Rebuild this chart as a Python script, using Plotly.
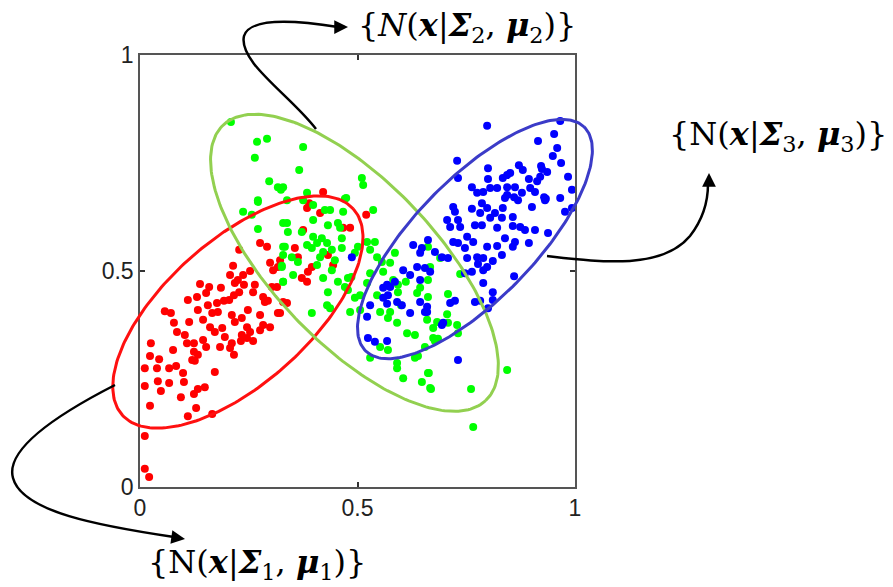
import numpy as np
import plotly.graph_objects as go

# ---------------- data ----------------
red_x = [0.025,0.023,0.044,0.076,0.011,0.039,0.067,0.083,0.099,0.011,0.041,0.048,0.067,0.101,0.023,0.094,0.124,0.133,0.149,0.129,
         0.110,0.166,0.172,0.011,0.011,0.021,0.108,0.124,0.145,0.124,0.120,0.126,0.133,0.152,0.184,0.207,0.216,0.211,0.232,0.260,
         0.057,0.071,0.078,0.085,0.110,0.113,0.103,0.131,0.138,0.152,0.159,0.133,0.145,0.156,0.166,0.177,0.186,0.193,0.205,0.179,
         0.189,0.161,0.172,0.195,0.211,0.218,0.216,0.228,0.207,0.218,0.214,0.225,0.237,0.239,0.253,0.264,0.260,0.248,0.234,0.246,
         0.253,0.234,0.276,0.283,0.299,0.276,0.287,0.294,0.283,0.228,0.276,0.292,0.299,0.317,0.306,0.317,0.315,0.303,0.246,
         0.384,0.389,0.414,0.520,0.375,0.467,0.483,0.356,0.363,0.322,0.432,0.444,0.395,0.386,0.372,0.384,0.329,0.338,0.322,0.421]
red_y = [0.333,0.303,0.296,0.317,0.275,0.275,0.275,0.280,0.264,0.234,0.245,0.222,0.241,0.243,0.188,0.208,0.215,0.227,0.231,0.183,
         0.164,0.169,0.266,0.118,0.042,0.023,0.333,0.333,0.340,0.313,0.294,0.292,0.306,0.324,0.324,0.322,0.306,0.333,0.338,0.338,
         0.407,0.403,0.380,0.359,0.433,0.382,0.352,0.440,0.470,0.449,0.463,0.410,0.387,0.421,0.403,0.426,0.461,0.431,0.433,0.405,
         0.368,0.370,0.359,0.347,0.398,0.382,0.444,0.451,0.491,0.472,0.512,0.479,0.491,0.468,0.500,0.468,0.451,0.410,0.391,0.370,
         0.359,0.352,0.398,0.375,0.370,0.363,0.428,0.431,0.440,0.549,0.565,0.556,0.519,0.509,0.502,0.403,0.463,0.463,0.345,
         0.646,0.657,0.634,0.630,0.595,0.600,0.600,0.553,0.532,0.525,0.537,0.514,0.509,0.498,0.484,0.475,0.428,0.426,0.403,0.683]

green_x = [0.209,0.269,0.292,0.264,0.297,0.317,0.324,0.271,0.375,0.366,0.510,0.513,0.329,0.384,0.474,
           0.237,0.257,0.271,0.271,0.329,0.326,0.329,0.329,
           0.338,0.375,0.398,0.425,0.437,0.471,0.467,0.536,0.398,0.432,0.455,0.460,0.338,0.340,0.372,0.398,0.418,0.407,0.430,0.464,
           0.384,0.333,0.329,0.349,0.363,0.395,0.414,0.421,0.441,0.464,0.448,0.441,0.407,0.326,0.352,0.329,0.421,0.455,0.478,0.486,
           0.494,0.501,0.522,0.540,0.529,0.545,0.556,0.575,0.586,0.559,0.582,0.529,0.522,0.506,0.494,0.478,0.471,0.432,0.430,0.437,
           0.395,0.483,0.506,0.545,0.552,0.593,0.593,0.611,0.600,0.575,0.570,0.591,0.614,0.632,0.637,0.644,0.662,0.660,
           0.662,0.667,0.662,0.690,0.736,0.708,0.706,0.683,0.708,0.729,0.674,0.731,0.674,0.685,
           0.529,0.552,0.570,0.591,0.591,0.605,0.632,0.639,0.655,0.648,0.662,0.667,0.678,0.664,0.669,0.761,0.844,0.766]
green_y = [0.845,0.799,0.806,0.762,0.708,0.694,0.688,0.664,0.787,0.734,0.715,0.699,0.694,0.681,0.669,
           0.637,0.630,0.660,0.597,0.556,0.512,0.475,0.611,
           0.664,0.664,0.653,0.641,0.641,0.667,0.637,0.641,0.618,0.606,0.611,0.600,0.611,0.590,0.590,0.579,0.576,0.565,0.565,0.576,
           0.560,0.556,0.537,0.532,0.521,0.553,0.532,0.544,0.549,0.553,0.525,0.502,0.514,0.509,0.491,0.475,0.484,0.475,0.484,0.486,
           0.542,0.556,0.567,0.567,0.549,0.532,0.521,0.519,0.542,0.498,0.479,0.495,0.472,0.444,0.438,0.456,0.463,0.451,0.421,0.414,
           0.403,0.405,0.410,0.444,0.405,0.468,0.451,0.475,0.421,0.405,0.391,0.380,0.356,0.352,0.449,0.461,0.440,0.387,
           0.556,0.509,0.479,0.530,0.493,0.447,0.400,0.382,0.380,0.375,0.368,0.356,0.345,0.343,
           0.299,0.324,0.317,0.287,0.275,0.252,0.299,0.303,0.324,0.243,0.264,0.229,0.338,0.264,0.227,0.227,0.271,0.139]

blue_x = [0.966,0.798,0.952,0.915,0.959,0.949,0.729,0.968,0.871,0.922,0.800,0.880,0.936,0.731,0.800,0.844,0.851,0.834,0.920,
          0.894,0.913,0.984,0.763,0.775,0.789,0.805,0.821,0.844,0.862,0.897,0.908,0.844,0.878,0.860,0.929,0.966,0.993,
          0.924,0.933,0.977,0.993,0.938,
          0.839,0.869,0.931,0.901,0.720,0.724,0.763,0.786,0.798,0.782,0.816,0.834,0.805,0.857,0.832,0.706,0.731,0.713,0.736,
          0.770,0.786,0.821,0.857,0.874,0.885,0.908,0.752,0.839,0.862,0.662,0.720,0.731,0.766,0.747,0.798,0.821,0.857,0.894,
          0.832,0.678,0.694,0.708,0.752,0.775,0.789,0.811,0.777,0.798,0.789,0.763,0.747,0.655,0.667,0.860,0.789,0.811,0.811,
          0.782,0.770,0.724,0.713,0.800,0.660,0.660,0.694,0.697,
          0.628,0.648,0.644,0.487,0.637,0.605,0.621,0.644,0.586,0.568,0.559,0.575,0.570,0.559,0.568,0.591,0.602,0.644,0.529,
          0.655,0.621,0.522,0.524,0.540,0.568,0.731]
blue_y = [0.847,0.836,0.817,0.801,0.785,0.766,0.755,0.750,0.745,0.743,0.738,0.734,0.729,0.715,0.713,0.722,0.727,0.715,0.718,
          0.713,0.708,0.718,0.694,0.681,0.683,0.692,0.692,0.694,0.694,0.692,0.683,0.676,0.681,0.671,0.671,0.669,0.688,
          0.736,0.667,0.637,0.646,0.588,
          0.669,0.664,0.664,0.648,0.648,0.637,0.644,0.657,0.646,0.634,0.634,0.646,0.623,0.625,0.623,0.618,0.618,0.602,0.602,
          0.606,0.606,0.600,0.604,0.602,0.595,0.595,0.579,0.576,0.567,0.572,0.567,0.565,0.567,0.553,0.556,0.558,0.556,0.565,
          0.537,0.544,0.532,0.530,0.530,0.532,0.530,0.523,0.516,0.509,0.502,0.498,0.495,0.507,0.498,0.488,0.472,0.451,0.433,
          0.431,0.428,0.431,0.426,0.414,0.417,0.405,0.375,0.380,
          0.560,0.553,0.542,0.532,0.509,0.502,0.491,0.479,0.475,0.468,0.461,0.463,0.444,0.438,0.424,0.428,0.421,0.428,0.421,
          0.405,0.403,0.394,0.345,0.336,0.338,0.294]

# Gaussian contour ellipses: centre, semi-axes, rotation (degrees)
ellipses = [
    dict(name="red",   cx=0.225, cy=0.405, a=0.357, b=0.166, ang=42.0,  color="#FF1010"),
    dict(name="green", cx=0.493, cy=0.519, a=0.439, b=0.187, ang=-46.6, color="#92D050"),
    dict(name="blue",  cx=0.770, cy=0.574, a=0.361, b=0.139, ang=46.0,  color="#3B3BC8"),
]

tick_vals = [0, 0.5, 1]
tick_text = ["0", "0.5", "1"]

# ---------------- layout geometry ----------------
W, H = 893, 587
PL, PR, PT, PB = 140, 575, 55, 487   # plot box in pixels
sx = (PR - PL)
sy = (PB - PT)

def px2d(px, py):
    return (px - PL) / sx, (PB - py) / sy

fig = go.Figure()

fig.add_trace(go.Scatter(x=red_x, y=red_y, mode="markers", cliponaxis=False,
                         marker=dict(color="#FF0000", size=8, line=dict(width=0)), showlegend=False))
fig.add_trace(go.Scatter(x=green_x, y=green_y, mode="markers", cliponaxis=False,
                         marker=dict(color="#00FF00", size=8, line=dict(width=0)), showlegend=False))
fig.add_trace(go.Scatter(x=blue_x, y=blue_y, mode="markers", cliponaxis=False,
                         marker=dict(color="#0000FF", size=8, line=dict(width=0)), showlegend=False))

t = np.linspace(0, 2 * np.pi, 241)
for e in ellipses:
    th = np.deg2rad(e["ang"])
    ex = e["cx"] + e["a"] * np.cos(th) * np.cos(t) - e["b"] * np.sin(th) * np.sin(t)
    ey = e["cy"] + e["a"] * np.sin(th) * np.cos(t) + e["b"] * np.cos(th) * np.sin(t)
    fig.add_trace(go.Scatter(x=ex, y=ey, mode="lines", xaxis="x2", yaxis="y2",
                             line=dict(color=e["color"], width=3), showlegend=False, hoverinfo="skip"))

# ---------------- curved arrows ----------------
def path(cmds):
    out = []
    for c in cmds:
        if isinstance(c, str):
            out.append(c)
        else:
            x, y = px2d(*c)
            out.append(f"{x:.5f},{y:.5f}")
    return " ".join(out)

arrow_paths = [
    ["M", (316, 129), "C", (290, 95), (238, 62), (244, 36), "C", (250, 16), (300, 21), (338, 27)],
    ["M", (547, 256), "C", (600, 262), (662, 270), (690, 236), "C", (704, 218), (708, 198), (708, 184)],
    ["M", (115, 385), "C", (70, 408), (4, 446), (13, 478), "C", (22, 512), (100, 526), (174, 537)],
]
for p in arrow_paths:
    fig.add_shape(type="path", path=path(p), xref="x2", yref="y2",
                  line=dict(color="black", width=2.5), layer="above")

heads = [((348, 27), (-14, 0)), ((709, 173), (0, 14)), ((185, 539), (-14, -2))]
for (tx, ty), (ax, ay) in heads:
    x, y = px2d(tx, ty)
    fig.add_annotation(x=x, y=y, xref="x2", yref="y2", ax=ax, ay=ay, axref="pixel", ayref="pixel",
                       text="", showarrow=True, arrowhead=2, arrowsize=1.1, arrowwidth=2.5,
                       arrowcolor="black", standoff=0)

# ---------------- labels ----------------
lab_font = dict(family="DejaVu Serif", size=32, color="black")
labels = [
    ((467, 27), "{<i>N</i>(<b><i>x</i></b>|<b><i>Σ</i></b><sub>2</sub>, <b><i>μ</i></b><sub>2</sub>)}"),
    ((778, 136), "{N(<b><i>x</i></b>|<b><i>Σ</i></b><sub>3</sub>, <b><i>μ</i></b><sub>3</sub>)}"),
    ((257, 564), "{N(<b><i>x</i></b>|<b><i>Σ</i></b><sub>1</sub>, <b><i>μ</i></b><sub>1</sub>)}"),
]
for (lx, ly), txt in labels:
    x, y = px2d(lx, ly)
    fig.add_annotation(x=x, y=y, xref="x2", yref="y2", text=txt, showarrow=False,
                       font=lab_font, xanchor="center", yanchor="middle")

axis_common = dict(range=[0, 1], showgrid=False, zeroline=False, showline=True, mirror="ticks",
                   linecolor="#555555", linewidth=1.5, ticks="inside", ticklen=5, tickwidth=1.5,
                   tickcolor="#333333", tickvals=tick_vals, ticktext=tick_text, automargin=False,
                   tickfont=dict(family="Liberation Sans", size=23, color="#222222"))

x2r = [(0 - PL) / sx, (W - PL) / sx]
y2r = [(PB - H) / sy, (PB - 0) / sy]

fig.update_layout(
    width=W, height=H, margin=dict(l=0, r=0, t=0, b=0, autoexpand=False),
    paper_bgcolor="white", plot_bgcolor="rgba(0,0,0,0)",
    xaxis=dict(domain=[PL / W, PR / W], anchor="y", **axis_common),
    yaxis=dict(domain=[(H - PB) / H, (H - PT) / H], anchor="x", **axis_common),
    xaxis2=dict(domain=[0, 1], range=x2r, visible=False, anchor="y2", fixedrange=True, automargin=False),
    yaxis2=dict(domain=[0, 1], range=y2r, visible=False, anchor="x2", fixedrange=True, automargin=False),
    showlegend=False,
)

fig.write_html("out.html", config={"displayModeBar": False},
               post_script="document.body.style.margin='0px';document.body.style.overflow='hidden';")
